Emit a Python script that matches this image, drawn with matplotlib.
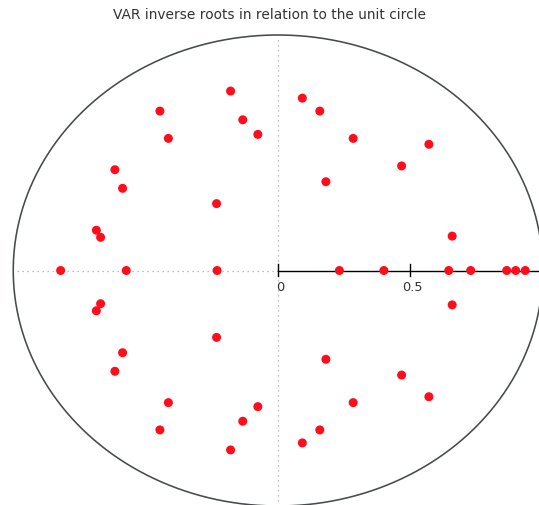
import numpy as np
import matplotlib
matplotlib.use("Agg")
import matplotlib.pyplot as plt

# real inverse roots (on the horizontal axis)
real_roots = [-0.821, -0.573, -0.230, 0.232, 0.400, 0.645, 0.728, 0.864, 0.898, 0.934]

# complex inverse roots, upper half; their conjugates are mirrored below
cplx_re = [-0.179, -0.446, -0.133, -0.076, -0.414, -0.616, -0.587, -0.232, -0.686, -0.670,
           0.092, 0.158, 0.284, 0.570, 0.467, 0.181, 0.658]
cplx_im = [0.762, 0.677, 0.640, 0.578, 0.561, 0.428, 0.349, 0.284, 0.171, 0.141,
           0.732, 0.677, 0.561, 0.536, 0.444, 0.377, 0.146]

tick_vals = [0, 0.5]
tick_text = ["0", "0.5"]

fig = plt.figure(figsize=(5.39, 5.06), dpi=100)
ax = fig.add_axes([0, -1 / 506, 1, 471 / 506])
ax.set_xlim(-1.050, 0.986)
ax.set_ylim(-1.0, 1.0)
ax.axis("off")

# unit circle
t = np.linspace(0, 2 * np.pi, 600)
ax.plot(np.cos(t), np.sin(t), color="#464b4b", lw=1.15, clip_on=False, zorder=2)

# axes guides
ax.plot([-0.985, 0], [0, 0], color="#aaaaaa", lw=0.9, ls=(0, (1, 3)), zorder=1)
ax.plot([0, 0], [-1.0, 0.99], color="#aaaaaa", lw=0.9, ls=(0, (1, 3)), zorder=1)
ax.plot([0, 1.2], [0, 0], color="black", lw=1.0, clip_on=False, zorder=1)
for v, s in zip(tick_vals, tick_text):
    ax.plot([v, v], [-0.025, 0.027], color="black", lw=1.0, zorder=1)
    ax.text(v + 0.008, -0.04, s, ha="center", va="top", fontsize=9.3, color="#333333")

# roots
xs = list(real_roots) + list(cplx_re) + list(cplx_re)
ys = [0] * len(real_roots) + list(cplx_im) + [-v for v in cplx_im]
ax.scatter(xs, ys, s=42, color="#ff0d1a", edgecolors="none", zorder=3, clip_on=False)

fig.text(0.5, 1 - 15 / 506, "VAR inverse roots in relation to the unit circle",
         ha="center", va="center", fontsize=9.9, color="#333333")

fig.savefig("out.png", dpi=100)
